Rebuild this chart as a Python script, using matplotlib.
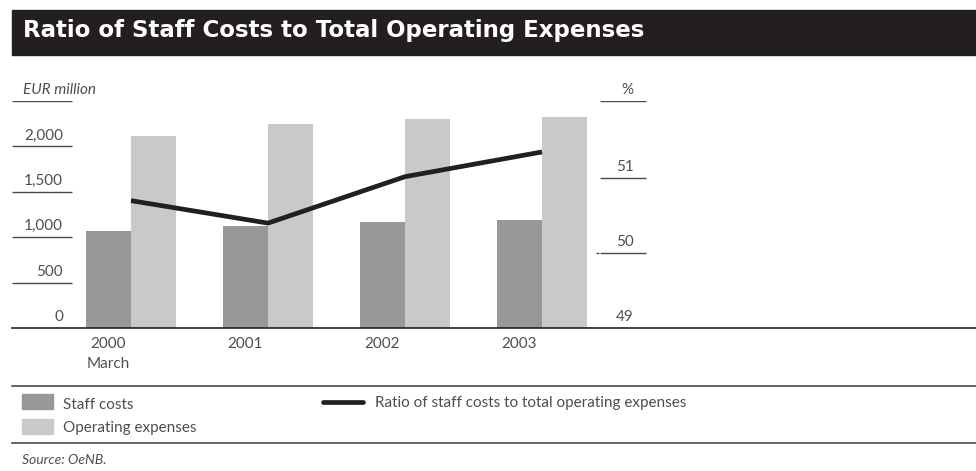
import matplotlib
matplotlib.use('Agg')
import matplotlib.pyplot as plt
import matplotlib.transforms as mtransforms
from matplotlib.patches import Rectangle
from matplotlib.lines import Line2D

# Chart data
years = ['2000\nMarch', '2001', '2002', '2003']
staff_costs = [1068, 1123, 1167, 1189]
operating_expenses = [2115, 2247, 2302, 2324]
staff_ratio = [50.7, 50.4, 51.02, 51.35]

left_ticks = [0, 500, 1000, 1500, 2000]
left_tick_labels = ['0', '500', '1,000', '1,500', '2,000']
right_ticks = [49, 50, 51]
right_tick_labels = ['49', '50', '51']

STAFF_COLOR = '#97989a'
OPEX_COLOR = '#c8c9cb'
DARK = '#231f20'
TEXT = '#4e4e4e'
RULE = '#4a4a4a'
FS = 11

plt.rcParams['font.family'] = ['Lato', 'DejaVu Sans']

W, H, DPI = 976, 471, 100
fig = plt.figure(figsize=(W / DPI, H / DPI), dpi=DPI)


def fx(px):
    return px / W


def fy(py):
    return 1 - py / H


# plot area: baseline at y=328 px, top rule at y=101 px
x0, x1 = 12, 976
ax = fig.add_axes([fx(x0), fy(328), fx(x1) - fx(x0), fy(101) - fy(328)])
step = 137.0
first = 131.0
ax.set_xlim((x0 - first) / step, (x1 - first) / step)
ax.set_ylim(0, 2500)

w = 45 / step
pos = list(range(len(years)))
ax.bar([p - w for p in pos], staff_costs, width=w, align='edge',
       color=STAFF_COLOR, linewidth=0, zorder=2)
ax.bar(pos, operating_expenses, width=w, align='edge',
       color=OPEX_COLOR, linewidth=0, zorder=2)

for s in ['top', 'left', 'right']:
    ax.spines[s].set_visible(False)
ax.spines['bottom'].set_color(DARK)
ax.spines['bottom'].set_linewidth(1.2)
ax.set_xticks([])
ax.set_yticks([])


def afrac(px):
    return (px - x0) / (x1 - x0)


ytr = ax.get_yaxis_transform()
lab_tr = mtransforms.offset_copy(ytr, fig=fig, x=0, y=4, units='dots')

# left scale: short rules with labels sitting above them
for v, lab in zip(left_ticks, left_tick_labels):
    if v > 0:
        ax.hlines(v, afrac(12), afrac(72), transform=ytr, color=RULE, lw=1.0)
    ax.text(afrac(63), v, lab, transform=lab_tr, ha='right', va='bottom',
            fontsize=FS, color=TEXT)
ax.hlines(2500, afrac(12), afrac(72), transform=ytr, color=RULE, lw=1.0)
ax.text(afrac(23), 2500, 'EUR million', transform=lab_tr, ha='left', va='bottom',
        fontsize=FS, color=TEXT, style='italic')

# year labels under the bars
xl_tr = mtransforms.offset_copy(ax.get_xaxis_transform(), fig=fig, x=0, y=-9, units='dots')
for p, lab in zip(pos, years):
    ax.text(p - w / 2, 0, lab, transform=xl_tr, ha='center', va='top',
            fontsize=FS, color=TEXT, linespacing=1.5)

# right scale for the ratio line
ax2 = ax.twinx()
ax2.set_ylim(49, 52.03)
for s in ax2.spines.values():
    s.set_visible(False)
ax2.set_yticks([])
ax2.plot(pos, staff_ratio, color=DARK, lw=3.4, solid_capstyle='butt',
         solid_joinstyle='miter', zorder=3)

ytr2 = ax2.get_yaxis_transform()
lab_tr2 = mtransforms.offset_copy(ytr2, fig=fig, x=0, y=4, units='dots')
for v, lab in zip(right_ticks, right_tick_labels):
    if v > 49:
        ax2.hlines(v, afrac(600), afrac(646), transform=ytr2, color=RULE, lw=1.0)
    ax2.text(afrac(634), v, lab, transform=lab_tr2, ha='right', va='bottom',
             fontsize=FS, color=TEXT)
ax2.hlines(50, afrac(596), afrac(599), transform=ytr2, color=RULE, lw=1.0)
ax2.hlines(52.03, afrac(600), afrac(646), transform=ytr2, color=RULE, lw=1.0)
ax2.text(afrac(634), 52.03, '%', transform=lab_tr2, ha='right', va='bottom',
         fontsize=FS, color=TEXT)

# title bar
fig.patches.append(Rectangle((fx(12), fy(55)), fx(976) - fx(12), fy(10) - fy(55),
                             transform=fig.transFigure, color=DARK, zorder=0))
fig.text(fx(23), fy(31), 'Ratio of Staff Costs to Total Operating Expenses',
         color='white', fontsize=16.5, fontweight='bold', va='center', ha='left',
         family='DejaVu Sans')

# legend block between two rules
for ypx in (386, 443):
    fig.add_artist(Line2D([fx(12), fx(976)], [fy(ypx), fy(ypx)],
                          transform=fig.transFigure, color=RULE, lw=1.2))
fig.patches.append(Rectangle((fx(22), fy(409)), fx(53) - fx(22), fy(394) - fy(409),
                             transform=fig.transFigure, color=STAFF_COLOR))
fig.patches.append(Rectangle((fx(22), fy(434)), fx(53) - fx(22), fy(419) - fy(434),
                             transform=fig.transFigure, color=OPEX_COLOR))
fig.text(fx(63), fy(405), 'Staff costs', fontsize=FS, color=TEXT, va='center')
fig.text(fx(63), fy(428), 'Operating expenses', fontsize=FS, color=TEXT, va='center')
fig.add_artist(Line2D([fx(323), fx(363)], [fy(402), fy(402)],
                      transform=fig.transFigure, color=DARK, lw=3.4,
                      solid_capstyle='round'))
fig.text(fx(375), fy(403), 'Ratio of staff costs to total operating expenses',
         fontsize=FS, color=TEXT, va='center')

fig.text(fx(22), fy(460), 'Source: OeNB.', fontsize=10, color=TEXT,
         style='italic', va='center')

fig.savefig('out.png', dpi=DPI)
